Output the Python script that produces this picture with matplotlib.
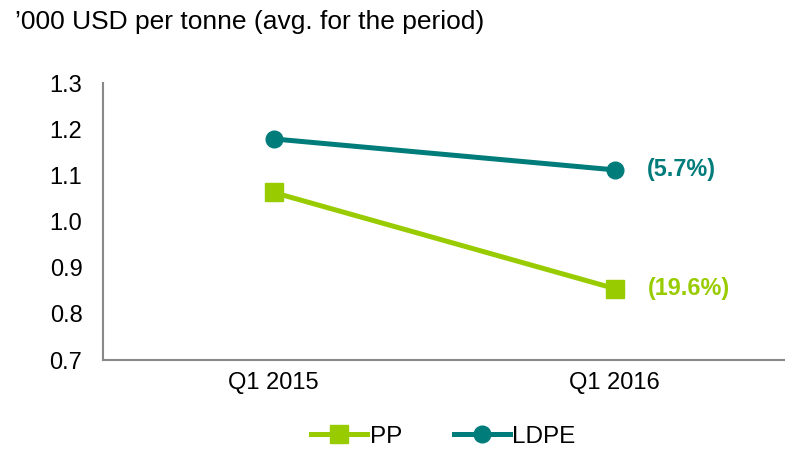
import numpy as np
import matplotlib.pyplot as plt

plt.rcParams['font.family'] = ['Liberation Sans', 'DejaVu Sans']

# data
periods = ['Q1 2015', 'Q1 2016']
pp = [1.063, 0.855]
ldpe = [1.179, 1.112]
pp_change = '(19.6%)'
ldpe_change = '(5.7%)'

pp_color = '#99CC00'
ldpe_color = '#007C7A'

fig = plt.figure(figsize=(7.85, 4.49), dpi=100)
ax = fig.add_axes([0.1315, 0.198, 0.8685, 0.617])

x = np.arange(len(periods))
ax.plot(x, pp, color=pp_color, lw=3.6, marker='s', ms=12.5, label='PP')
ax.plot(x, ldpe, color=ldpe_color, lw=3.6, marker='o', ms=12, label='LDPE')

# percentage change labels next to the last points
ax.annotate(ldpe_change, (x[-1], ldpe[-1]), xytext=(23, 0), textcoords='offset points',
            va='center', ha='left', color=ldpe_color, fontsize=16.8, fontweight='bold')
ax.annotate(pp_change, (x[-1], pp[-1]), xytext=(24, 0), textcoords='offset points',
            va='center', ha='left', color=pp_color, fontsize=16.8, fontweight='bold')

ax.set_xlim(-0.5, 1.5)
ax.set_ylim(0.7, 1.3)
ax.set_yticks(np.arange(0.7, 1.31, 0.1))
ax.set_yticklabels([f'{v:.1f}' for v in np.arange(0.7, 1.31, 0.1)])
ax.set_xticks(x)
ax.set_xticklabels(periods)
ax.tick_params(length=0, labelsize=17, colors='#000000', pad=8.5)
ax.tick_params(axis='y', pad=15)

for side in ['top', 'right']:
    ax.spines[side].set_visible(False)
for side in ['left', 'bottom']:
    ax.spines[side].set_color('#888888')
    ax.spines[side].set_linewidth(1.5)

fig.text(0.019, 0.952, '\u2019000 USD per tonne (avg. for the period)', fontsize=19,
         va='center', ha='left')

fig.legend(loc='center', bbox_to_anchor=(0.565, 0.027), ncol=2, frameon=False,
           fontsize=17.5, handlelength=2.3, handletextpad=0.1, columnspacing=2.15)

fig.savefig('out.png', dpi=100)
